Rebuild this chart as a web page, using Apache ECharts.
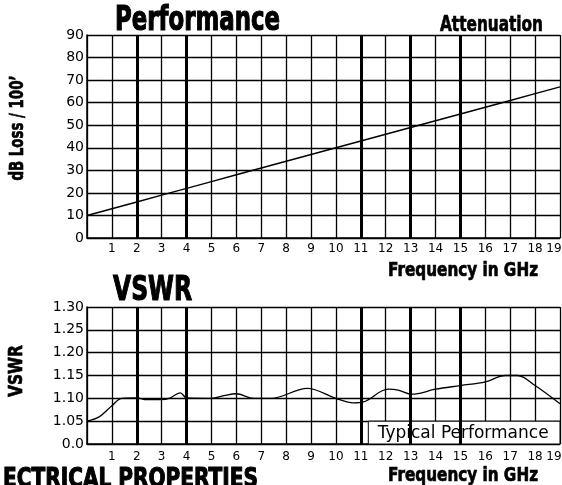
<!DOCTYPE html>
<html>
<head>
<meta charset="utf-8">
<script src="https://cdn.jsdelivr.net/npm/echarts@6/dist/echarts.min.js"></script>
<style>
  html, body { margin: 0; padding: 0; background: #fff; }
  #chart { width: 562px; height: 485px; }
</style>
</head>
<body>
<div id="chart"></div>
<script>
// attenuation (dB / 100 ft) vs frequency
var attFreq = [0, 1, 2, 3, 4, 5, 6, 7, 8, 9, 10, 11, 12, 13, 14, 15, 16, 17, 18, 19]
var attLoss = [10, 13, 16, 19, 22, 25, 28, 31, 34, 37, 40, 43, 46, 49, 52, 55, 58, 61, 64, 67]

// typical VSWR vs frequency
var vswrFreq = [0, 0.5, 1.0, 1.4, 2.0, 2.4, 3.0, 3.3, 3.75, 4.0, 5.0, 5.5, 6.0, 6.7, 7.4, 8.85, 10.0, 10.7, 11.1, 12.1, 12.5, 13.05, 14.0, 15.0, 16.0, 16.8, 17.3, 18.0, 19.0]
var vswrVal = [1.050, 1.060, 1.084, 1.100, 1.101, 1.097, 1.097, 1.100, 1.112, 1.101, 1.100, 1.106, 1.110, 1.100, 1.100, 1.122, 1.100, 1.090, 1.092, 1.120, 1.118, 1.109, 1.120, 1.128, 1.136, 1.150, 1.150, 1.128, 1.088]

// heavier grid lines
var thickLines = [2, 4, 11, 13, 15]

var boldFace = '"DejaVu Sans", sans-serif'
var thin = '"DejaVu Sans", sans-serif'

function pairs (xs, ys) {
  return xs.map(function (x, i) { return [x, ys[i]] })
}

// the original headings are a heavy condensed face, so squeeze DejaVu Bold to the same width
var measureCtx = document.createElement('canvas').getContext('2d')
function heading (text, x, y, width, size, align, rotation) {
  var font = 'bold ' + size + 'px ' + boldFace
  measureCtx.font = font
  var w = measureCtx.measureText(text).width
  return {
    type: 'text',
    x: x,
    y: y,
    rotation: rotation || 0,
    scaleX: width / w,
    style: {
      text: text,
      fill: '#000',
      font: font,
      align: align || 'left',
      verticalAlign: 'middle',
      stroke: '#000',
      lineWidth: size > 25 ? 1.2 : 0.7
    }
  }
}

function xAxisFor (gridIndex, margin) {
  return {
    type: 'value',
    gridIndex: gridIndex,
    min: 0,
    max: 19,
    interval: 1,
    axisLine: { show: true, onZero: false, lineStyle: { color: '#000', width: 1.5 } },
    axisTick: { show: false },
    axisLabel: {
      color: '#000',
      fontFamily: thin,
      fontSize: 12,
      margin: margin,
      formatter: function (v) {
        if (v === 0) return ''
        // last label sits just inside the right edge
        return v === 19 ? '{last|19}' : String(v)
      },
      rich: {
        last: { color: '#000', fontFamily: thin, fontSize: 12, padding: [0, 12, 0, 0] }
      }
    },
    splitLine: { show: true, lineStyle: { color: '#000', width: 1.3 } }
  }
}

var thickMarks = {
  silent: true,
  symbol: 'none',
  label: { show: false },
  lineStyle: { color: '#000', width: 3, type: 'solid' },
  data: thickLines.map(function (v) { return { xAxis: v } })
}

var dom = document.getElementById('chart')
var chart = echarts.init(dom)

var option = {
  animation: false,
  backgroundColor: '#fff',
  graphic: [
    heading('Performance', 115, 21, 165, 33),
    heading('Attenuation', 440, 26, 103, 21),
    heading('Frequency in GHz', 388, 271, 150, 19),
    heading('VSWR', 113, 291, 79, 34),
    heading('Frequency in GHz', 388, 476, 150, 19),
    heading('ECTRICAL PROPERTIES', 3, 480, 255, 27),
    heading('dB Loss / 100\u2019', 18, 128, 105, 19, 'center', Math.PI / 2),
    heading('VSWR', 17, 371, 52, 20, 'center', Math.PI / 2)
  ],
  grid: [
    { left: 87, right: 2, top: 35, height: 203, outerBoundsMode: 'none' },
    { left: 87, right: 2, top: 307, height: 137, outerBoundsMode: 'none' }
  ],
  xAxis: [xAxisFor(0, 5), xAxisFor(1, 7)],
  yAxis: [
    {
      type: 'value',
      gridIndex: 0,
      min: 0,
      max: 90,
      interval: 10,
      axisLine: { show: true, lineStyle: { color: '#000', width: 1.5 } },
      axisTick: { show: false },
      axisLabel: { color: '#000', fontFamily: thin, fontSize: 14, margin: 3 },
      splitLine: { show: true, lineStyle: { color: '#000', width: 1.3 } }
    },
    {
      type: 'value',
      gridIndex: 1,
      min: 1.0,
      max: 1.3,
      interval: 0.05,
      axisLine: { show: true, lineStyle: { color: '#000', width: 1.5 } },
      axisTick: { show: false },
      axisLabel: {
        color: '#000',
        fontFamily: thin,
        fontSize: 14,
        margin: 3,
        formatter: function (v) { return v < 1.001 ? '0.0' : v.toFixed(2) }
      },
      splitLine: { show: true, lineStyle: { color: '#000', width: 1.3 } }
    }
  ],
  series: [
    {
      name: 'Attenuation',
      type: 'line',
      xAxisIndex: 0,
      yAxisIndex: 0,
      data: pairs(attFreq, attLoss),
      showSymbol: false,
      lineStyle: { color: '#000', width: 1.5 },
      markLine: thickMarks,
      z: 5
    },
    {
      name: 'VSWR',
      type: 'line',
      xAxisIndex: 1,
      yAxisIndex: 1,
      data: pairs(vswrFreq, vswrVal),
      smooth: 0.35,
      showSymbol: false,
      lineStyle: { color: '#000', width: 1.3 },
      markLine: thickMarks,
      markArea: {
        silent: true,
        itemStyle: { color: '#fff', opacity: 1, borderColor: '#000', borderWidth: 1 },
        label: {
          show: true,
          position: 'inside',
          color: '#000',
          fontFamily: thin,
          fontSize: 17,
          offset: [-1, 1]
        },
        data: [[{ name: 'Typical Performance', coord: [11.3, 1.0] }, { coord: [19, 1.05] }]]
      },
      z: 5
    }
  ]
}

chart.setOption(option)
window.addEventListener('resize', function () { chart.resize() })
</script>
</body>
</html>
